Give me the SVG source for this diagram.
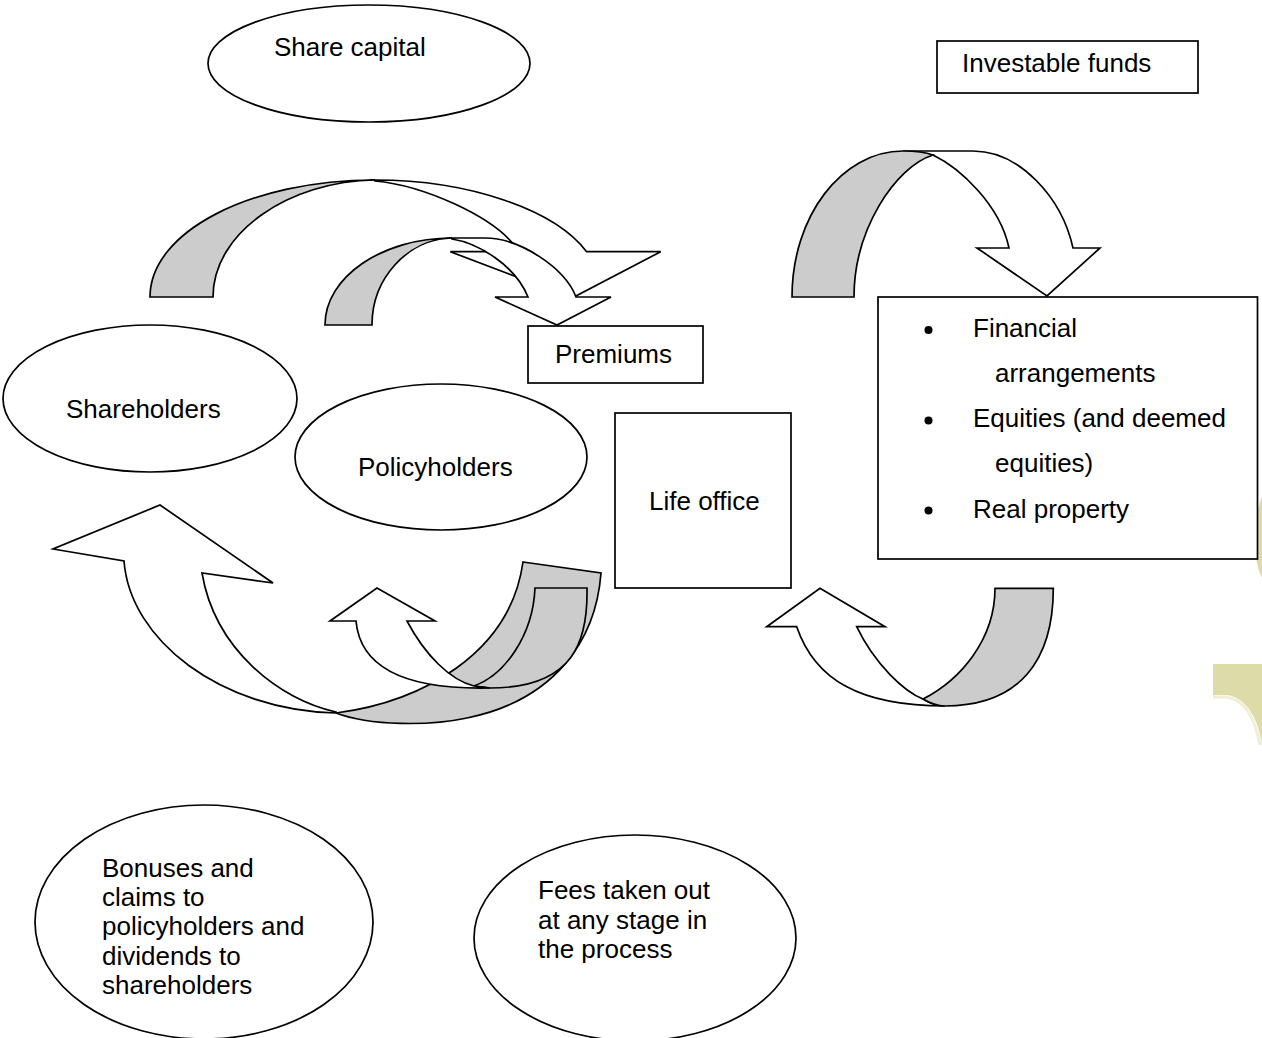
<svg xmlns="http://www.w3.org/2000/svg" width="1262" height="1038" viewBox="0 0 1262 1038">
<style>
.s{fill:#fff;stroke:#000;stroke-width:1.7}
.g{fill:#cccccc;stroke:#000;stroke-width:1.7;stroke-linejoin:miter}
.w{fill:#fff;stroke:#000;stroke-width:1.7;stroke-linejoin:miter}
text{font-family:"Liberation Sans",Arial,sans-serif;font-size:26px;fill:#000}
.deco{fill:#dddca9}
</style>
<rect width="1262" height="1038" fill="#fff"/>
<g id="decoration">
<path class="deco" d="M1262,496 C1257,510 1255,525 1255,540 C1255,555 1257,568 1262,578 Z"/>
<path class="deco" d="M1213,664 L1262,664 L1262,745 C1258,718 1246,697 1226,695 L1213,695 Z"/>
<path d="M1213,697 L1226,697 C1244,699 1255,718 1260,745" fill="none" stroke="#f1eed6" stroke-width="3"/>
</g>
<g id="share-capital"><ellipse class="s" cx="369" cy="63.5" rx="161" ry="58.5"/><text x="274" y="56">Share capital</text></g>
<g id="investable-funds"><rect class="s" x="937" y="41" width="261" height="52"/><text x="962" y="72">Investable funds</text></g>
<g id="premiums"><rect class="s" x="528" y="326" width="175" height="57"/><text x="555" y="363">Premiums</text></g>
<g id="shareholders"><ellipse class="s" cx="150" cy="398.5" rx="147" ry="73.5"/><text x="66" y="418">Shareholders</text></g>
<g id="policyholders"><ellipse class="s" cx="441" cy="457" rx="146" ry="73"/><text x="358" y="476">Policyholders</text></g>
<g id="life-office"><rect class="s" x="615" y="413" width="176" height="175"/><text x="649" y="510">Life office</text></g>
<g id="investments">
<rect class="s" x="878" y="297" width="379.5" height="262"/>
<circle cx="928.5" cy="330" r="4"/>
<circle cx="928.5" cy="420.5" r="4"/>
<circle cx="928.5" cy="510.5" r="4"/>
<text x="973" y="336.5">Financial</text>
<text x="995" y="381.5">arrangements</text>
<text x="973" y="427">Equities (and deemed</text>
<text x="995" y="472">equities)</text>
<text x="973" y="517.5">Real property</text>
</g>
<g id="bonuses"><ellipse class="s" cx="204" cy="922" rx="169" ry="117"/>
<text x="102" y="877">Bonuses and</text>
<text x="102" y="906">claims to</text>
<text x="102" y="935">policyholders and</text>
<text x="102" y="964.5">dividends to</text>
<text x="102" y="993.5">shareholders</text>
</g>
<g id="fees"><ellipse class="s" cx="635" cy="938" rx="161" ry="103"/>
<text x="538" y="899">Fees taken out</text>
<text x="538" y="928.5">at any stage in</text>
<text x="538" y="958">the process</text>
</g>
<g id="connectors">
<g id="arrow-share-capital">
<path class="g" d="M150,297 C150,232 250,180 375,180 C290,181 213,232 213,297 Z"/>
<path class="w" d="M375,180 C470,180 555,210 586.6,251.7 L660.7,251.7 L572,298 L450.3,251.7 L519.3,251.7 C495,215 420,185 375,181 Z"/>
</g>
<g id="arrow-policyholders-premiums">
<path class="g" d="M325,325 C325,277 382,238 452,238 C408,239 372,278 372,325 Z"/>
<path class="w" d="M452,238 L485,238 C520,238 565,268 576,297 L611,297 L557,325 L495,297 L528,297 C515,265 478,243 452,239 Z"/>
</g>
<g id="arrow-investable">
<path class="w" d="M903,151 L973,151 C1020,151 1062,198 1073,248 L1100,248 L1047,296 L977,248 L1009,248 C1000,205 960,168 933,155 Z"/>
<path class="g" d="M792,297 C792,216 842,151 903,151 C915,151 925,152 933,155 C895,167 854,230 854,297 Z"/>
</g>
<g id="arrow-returns">
<path class="w" d="M945,706 C935,706 928,702 923,699 C905,692 875,665 856.7,626.7 L885,626.7 L820,588.3 L766.7,626.7 L796.7,626.7 C815,680 860,706 945,706 Z"/>
<path class="g" d="M995,588.3 L1053.3,588.3 C1053.3,660 1020,706 945,706 C935,706 928,702 923,699 C960,680 995,640 995,588.3 Z"/>
</g>
<g id="arrow-shareholders">
<path class="g" d="M523,562 L601,573 C596,640 555,700 467,718 C430,726 370,726 336,713 C420,702 510,655 523,562 Z"/>
<path class="w" d="M336,713 C220,710 130,640 124,561 L53,549 L160,505 L273,583 L202,573 C215,650 280,700 336,712 Z"/>
</g>
<g id="arrow-policyholders">
<path class="g" d="M535,588 L587,588 C588,640 575,688 490,688 L474,686 C505,675 533,635 535,588 Z"/>
<path class="w" d="M474,686 C450,680 425,655 407,621 L435,621 L377,588 L330,621 L356,621 C360,665 400,690 490,688 Z"/>
</g>
</g>
</svg>
